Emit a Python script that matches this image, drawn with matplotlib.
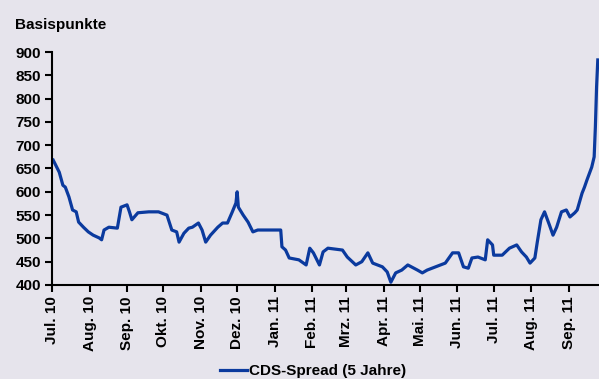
import matplotlib
matplotlib.use("Agg")
import matplotlib.pyplot as plt
import numpy as np
import pandas as pd

# CDS-Spread (5 Jahre) in Basispunkten
dates = [
    "2010-07-02", "2010-07-07", "2010-07-10", "2010-07-12", "2010-07-15", "2010-07-18",
    "2010-07-21", "2010-07-23", "2010-07-27", "2010-07-31", "2010-08-04", "2010-08-09",
    "2010-08-11", "2010-08-13", "2010-08-17", "2010-08-24", "2010-08-27", "2010-09-01",
    "2010-09-03", "2010-09-05", "2010-09-10", "2010-09-19", "2010-09-27", "2010-10-04",
    "2010-10-08", "2010-10-12", "2010-10-14", "2010-10-18", "2010-10-22", "2010-10-25",
    "2010-10-30", "2010-11-02", "2010-11-05", "2010-11-09", "2010-11-15", "2010-11-19",
    "2010-11-23", "2010-11-27", "2010-11-30", "2010-12-01", "2010-12-02", "2010-12-06",
    "2010-12-10", "2010-12-14", "2010-12-18", "2011-01-06", "2011-01-07", "2011-01-10",
    "2011-01-13", "2011-01-21", "2011-01-27", "2011-01-30", "2011-02-02", "2011-02-07",
    "2011-02-10", "2011-02-14", "2011-02-26", "2011-03-02", "2011-03-09", "2011-03-14",
    "2011-03-19", "2011-03-23", "2011-03-31", "2011-04-04", "2011-04-07", "2011-04-11",
    "2011-04-16", "2011-04-21", "2011-04-29", "2011-05-03", "2011-05-07", "2011-05-14",
    "2011-05-22", "2011-05-28", "2011-06-02", "2011-06-06", "2011-06-10", "2011-06-13",
    "2011-06-18", "2011-06-24", "2011-06-26", "2011-06-30", "2011-07-01", "2011-07-08",
    "2011-07-14", "2011-07-20", "2011-07-24", "2011-07-28", "2011-07-31", "2011-08-04",
    "2011-08-06", "2011-08-09", "2011-08-12", "2011-08-16", "2011-08-19", "2011-08-22",
    "2011-08-26", "2011-08-30", "2011-09-02", "2011-09-06", "2011-09-08", "2011-09-12",
    "2011-09-14", "2011-09-16", "2011-09-20", "2011-09-22", "2011-09-23", "2011-09-24",
    "2011-09-25",
]
spread = [
    668, 642, 614, 610, 589, 561,
    557, 535, 524, 514, 507, 501,
    497, 518, 524, 522, 567, 572,
    557, 540, 555, 557, 557, 550,
    518, 514, 492, 511, 522, 524,
    533, 518, 492, 507, 524, 533,
    533, 557, 576, 600, 567, 550,
    535, 514, 518, 518, 482, 475,
    458, 454, 443, 479, 469, 443,
    471, 479, 475, 460, 443, 450,
    469, 447, 439, 428, 406, 426,
    432, 443, 432, 426, 432, 439,
    447, 469, 469, 439, 436, 458,
    460, 454, 497, 486, 464, 464,
    479, 486, 471, 460, 447, 458,
    492, 540, 557, 529, 507, 524,
    557, 561, 546, 555, 561, 597,
    610, 625, 653, 675, 739, 825,
    883,
]

month_labels = ["Jul. 10", "Aug. 10", "Sep. 10", "Okt. 10", "Nov. 10", "Dez. 10",
                "Jan. 11", "Feb. 11", "Mrz. 11", "Apr. 11", "Mai. 11", "Jun. 11",
                "Jul. 11", "Aug. 11", "Sep. 11"]
month_starts = pd.date_range("2010-07-01", periods=len(month_labels), freq="MS")
y_ticks = [400, 450, 500, 550, 600, 650, 700, 750, 800, 850, 900]

bg = '#e6e4ec'
line_color = '#0b3a9e'

plt.rcParams['font.family'] = ['Liberation Sans', 'DejaVu Sans']
plt.rcParams['font.weight'] = 'bold'

fig = plt.figure(figsize=(5.99, 3.79), dpi=100, facecolor=bg)
ax = fig.add_axes([52 / 599, 94 / 379, 547 / 599, 233 / 379], facecolor=bg)

x = pd.to_datetime(dates)
ax.plot(x, spread, color=line_color, lw=2.3, label='CDS-Spread (5 Jahre)')

ax.set_ylim(400, 900)
ax.set_yticks(y_ticks)
ax.set_xlim(pd.Timestamp("2010-07-01"), pd.Timestamp("2011-09-26"))
ax.set_xticks(month_starts)
ax.set_xticklabels(month_labels, rotation=90)

for s in ['top', 'right']:
    ax.spines[s].set_visible(False)
for s in ['left', 'bottom']:
    ax.spines[s].set_linewidth(1.5)
    ax.spines[s].set_color('black')
ax.tick_params(axis='both', direction='out', length=5, width=1.5,
               labelsize=11, colors='black', pad=3)

fig.text(15 / 599, 1 - 25 / 379, 'Basispunkte', fontsize=11, fontweight='bold',
         va='center', ha='left')

fig.legend(loc='center', bbox_to_anchor=(313 / 599, 1 - 371 / 379), frameon=False,
           fontsize=11, handlelength=1.8, handletextpad=0.1)

fig.savefig('out.png', dpi=100, facecolor=bg)
